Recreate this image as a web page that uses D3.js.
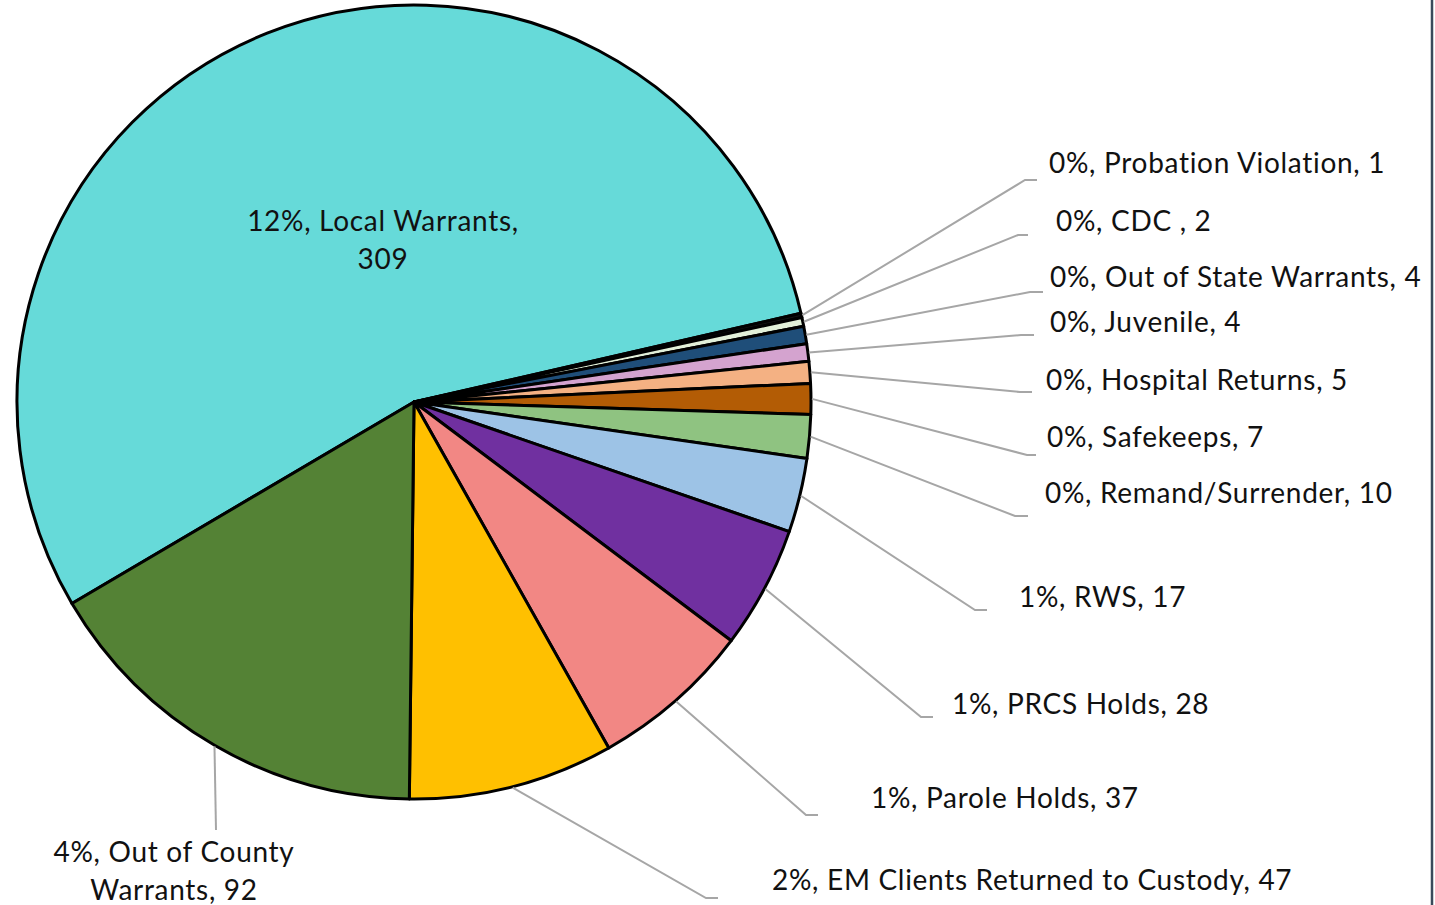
<!DOCTYPE html>
<html>
<head>
<meta charset="utf-8">
<script src="https://cdn.jsdelivr.net/npm/d3@7"></script>
<style>
  body { margin: 0; background: #fff; }
  svg { display: block; }
  .lbl { font-family: Lato, "Noto Sans", sans-serif; font-size: 28px; letter-spacing: 0.7px;
         font-variant-ligatures: none; fill: #111; }
</style>
</head>
<body>
<svg id="chart"></svg>
<script>
var width = 1435;
var height = 905;

// data, in the order the slices are drawn (clockwise)
var categories = ["Local Warrants", "Probation Violation", "CDC ", "Out of State Warrants", "Juvenile",
  "Hospital Returns", "Safekeeps", "Remand/Surrender", "RWS", "PRCS Holds", "Parole Holds",
  "EM Clients Returned to Custody", "Out of County Warrants"];
var counts = [309, 1, 2, 4, 4, 5, 7, 10, 17, 28, 37, 47, 92];
var pctLabels = ["12%", "0%", "0%", "0%", "0%", "0%", "0%", "0%", "1%", "1%", "1%", "2%", "4%"];
var colors = ["#66dad9", "#111111", "#e2f0d9", "#1f4e79", "#d4a3cf", "#f4b183", "#b35c05",
  "#8fc381", "#9dc3e6", "#7030a0", "#f28784", "#ffc000", "#548235"];

// label layout: text position (x, y centre), anchor, elbow of leader line, end of leader line
var labelLayout = [
  { x: 383, y: 221, anchor: "middle", lines: ["12%, Local Warrants,", "309"] },
  { x: 1049, y: 163, anchor: "start", elbow: [1025, 180], end: [1037, 180] },
  { x: 1056, y: 221, anchor: "start", elbow: [1018, 235], end: [1028, 235] },
  { x: 1050, y: 277, anchor: "start", elbow: [1030, 292], end: [1043, 292] },
  { x: 1050, y: 322, anchor: "start", elbow: [1021, 335], end: [1034, 335] },
  { x: 1046, y: 380, anchor: "start", elbow: [1020, 392], end: [1032, 392] },
  { x: 1047, y: 437, anchor: "start", elbow: [1027, 455], end: [1036, 455] },
  { x: 1045, y: 493, anchor: "start", elbow: [1015, 516], end: [1028, 516] },
  { x: 1019, y: 597, anchor: "start", elbow: [975, 610], end: [987, 610] },
  { x: 952, y: 704, anchor: "start", elbow: [921, 717], end: [933, 717] },
  { x: 871, y: 798, anchor: "start", elbow: [806, 815], end: [818, 815] },
  { x: 772, y: 880, anchor: "start", elbow: [706, 898], end: [718, 898] },
  { x: 174, y: 852, anchor: "middle", elbow: [216, 830], end: [216, 830],
    lines: ["4%, Out of County", "Warrants, 92"] }
];

var cx = 414, cy = 402, radius = 397;
var startAngle = 239.5 * Math.PI / 180;

var svg = d3.select("#chart")
  .attr("width", width)
  .attr("height", height);

// right frame edge of the chart area
svg.append("line")
  .attr("x1", 1432).attr("x2", 1432)
  .attr("y1", 0).attr("y2", height)
  .attr("stroke", "#3a4a5a")
  .attr("stroke-width", 2.5);

var rows = categories.map(function (c, i) {
  return { name: c, value: counts[i], pct: pctLabels[i], color: colors[i], layout: labelLayout[i] };
});

var pie = d3.pie()
  .sort(null)
  .value(function (d) { return d.value; })
  .startAngle(startAngle)
  .endAngle(startAngle + 2 * Math.PI);

var arc = d3.arc().innerRadius(0).outerRadius(radius);

var g = svg.append("g").attr("transform", "translate(" + cx + "," + cy + ")");
var arcs = pie(rows);

g.selectAll("path.slice")
  .data(arcs)
  .enter().append("path")
  .attr("class", "slice")
  .attr("d", arc)
  .attr("fill", function (d) { return d.data.color; })
  .attr("stroke", "#000")
  .attr("stroke-width", 3)
  .attr("stroke-linejoin", "round");

// leader lines
function edgePoint(d) {
  var a = (d.startAngle + d.endAngle) / 2;
  return [cx + Math.sin(a) * (radius + 1), cy - Math.cos(a) * (radius + 1)];
}

svg.selectAll("polyline.leader")
  .data(arcs.filter(function (d) { return d.data.layout.elbow; }))
  .enter().append("polyline")
  .attr("class", "leader")
  .attr("points", function (d) {
    var p = edgePoint(d), L = d.data.layout;
    return [p, L.elbow, L.end].map(function (q) { return q.join(","); }).join(" ");
  })
  .attr("fill", "none")
  .attr("stroke", "#a6a6a6")
  .attr("stroke-width", 2);

// labels
var labels = svg.selectAll("text.lbl")
  .data(arcs)
  .enter().append("text")
  .attr("class", "lbl")
  .attr("text-anchor", function (d) { return d.data.layout.anchor; })
  .attr("x", function (d) { return d.data.layout.x; })
  .attr("y", function (d) { return d.data.layout.y; });

labels.each(function (d) {
  var t = d3.select(this);
  var L = d.data.layout;
  var lines = L.lines || [d.data.pct + ", " + d.data.name + ", " + d.data.value];
  lines.forEach(function (s, k) {
    t.append("tspan")
      .attr("x", L.x)
      .attr("dy", k === 0 ? "0.35em" : "1.35em")
      .text(s);
  });
});
</script>
</body>
</html>
